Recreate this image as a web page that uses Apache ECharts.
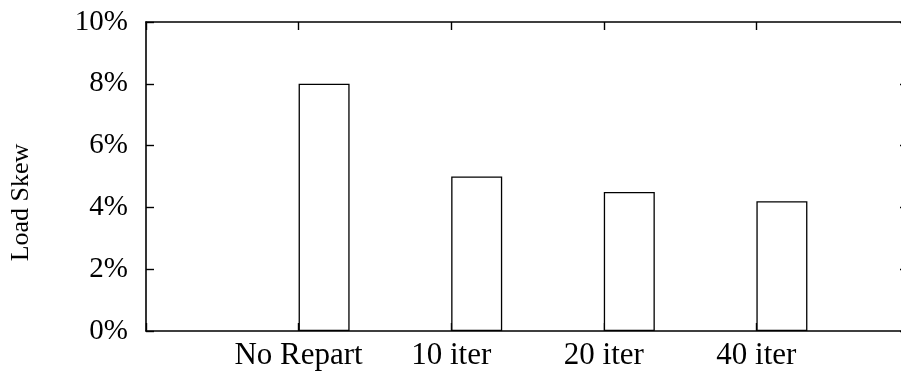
<!DOCTYPE html>
<html>
<head>
<meta charset="utf-8">
<script src="https://cdn.jsdelivr.net/npm/echarts@6/dist/echarts.min.js"></script>
<style>
  html, body { margin: 0; padding: 0; background: #fff; }
  #chart { width: 901px; height: 376px; }
</style>
</head>
<body>
<div id="chart"></div>
<script>
// Category slots along the x axis (empty slots pad both ends)
const categories = ['', 'No Repart', '10 iter', '20 iter', '40 iter', ''];
// Load skew in percent for each slot
const loadSkew = [null, 8.0, 5.0, 4.5, 4.2, null];
// Y axis range and step, in percent
const yMin = 0;
const yMax = 10;
const yStep = 2;

const serif = 'Liberation Serif';
const ink = '#000';

const chart = echarts.init(document.getElementById('chart'), null, { renderer: 'canvas' });

const frameAxis = {
  axisLine: { show: true, onZero: false, lineStyle: { color: ink, width: 1.6 } },
  splitLine: { show: false }
};

chart.setOption({
  animation: false,
  backgroundColor: '#fff',
  // the frame runs a little past the right edge of the canvas
  grid: {
    left: 146, width: 763, top: 22, height: 309,
    containLabel: false,
    outerBoundsMode: 'none'
  },
  xAxis: [
    Object.assign({
      type: 'category',
      data: categories,
      boundaryGap: false,
      position: 'bottom',
      axisTick: { show: true, inside: true, length: 8, lineStyle: { color: ink, width: 1.4 } },
      axisLabel: { color: ink, fontFamily: serif, fontSize: 31, margin: 9, interval: 0 }
    }, frameAxis),
    Object.assign({
      type: 'category',
      data: categories,
      boundaryGap: false,
      position: 'top',
      axisTick: { show: true, inside: true, length: 8, lineStyle: { color: ink, width: 1.4 } },
      axisLabel: { show: false }
    }, frameAxis)
  ],
  yAxis: [
    Object.assign({
      type: 'value',
      min: yMin, max: yMax, interval: yStep,
      position: 'left',
      name: 'Load Skew',
      nameLocation: 'middle',
      nameRotate: 90,
      nameGap: 112,
      nameTextStyle: { color: ink, fontFamily: serif, fontSize: 26, padding: [0, 52, 0, 0] },
      axisTick: { show: true, inside: true, length: 8, lineStyle: { color: ink, width: 1.4 } },
      axisLabel: { color: ink, fontFamily: serif, fontSize: 29, margin: 18, formatter: '{value}%' }
    }, frameAxis),
    Object.assign({
      type: 'value',
      min: yMin, max: yMax, interval: yStep,
      position: 'right',
      axisTick: { show: true, inside: true, length: 9, lineStyle: { color: ink, width: 1.4 } },
      axisLabel: { show: false }
    }, frameAxis)
  ],
  series: [
    {
      // spacer column so each box starts at its category tick
      type: 'bar',
      xAxisIndex: 0,
      yAxisIndex: 0,
      data: categories.map(() => null),
      barWidth: 51,
      barGap: '0%',
      silent: true,
      itemStyle: { color: 'transparent' }
    },
    {
      type: 'bar',
      xAxisIndex: 0,
      yAxisIndex: 0,
      data: loadSkew,
      barWidth: 51,
      barGap: '0%',
      itemStyle: { color: '#fff', borderColor: ink, borderWidth: 1.3 }
    }
  ]
});
</script>
</body>
</html>
